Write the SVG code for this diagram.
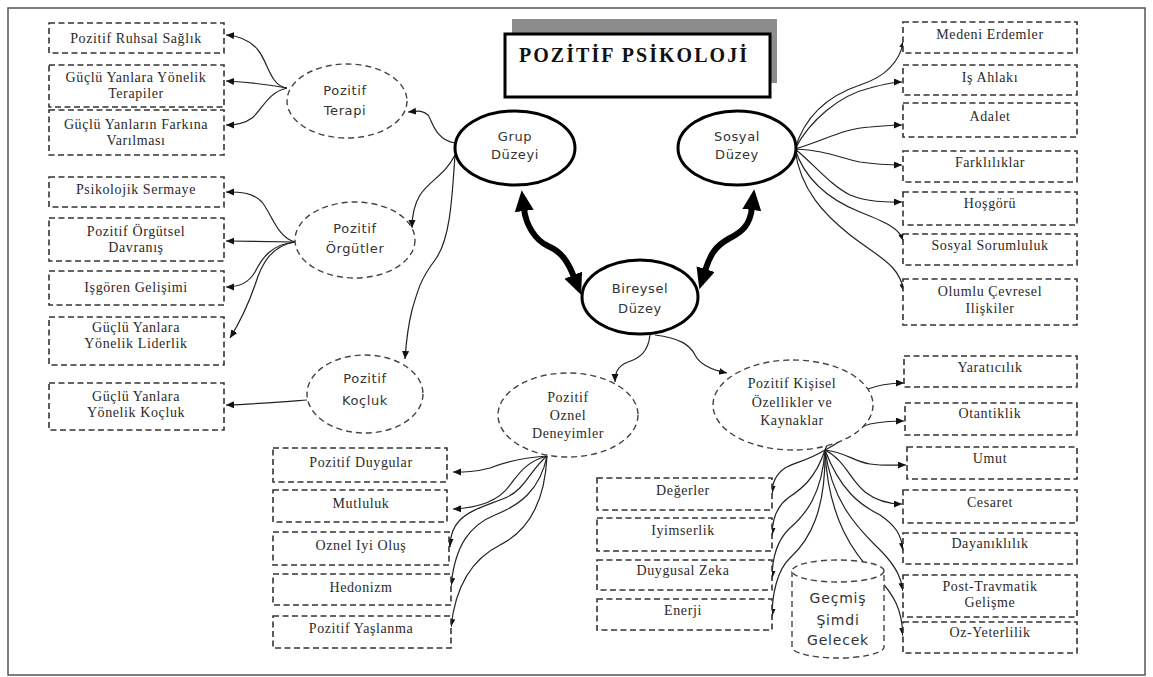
<svg xmlns="http://www.w3.org/2000/svg" width="1153" height="677" viewBox="0 0 1153 677">
<style>
.box{fill:#fff;stroke:#333;stroke-width:1.6;stroke-dasharray:6,3.5}
.del{fill:#fff;stroke:#444;stroke-width:1.4;stroke-dasharray:6,4}
.sel{fill:#fff;stroke:#000;stroke-width:3}
.t{font-family:"Liberation Serif","Times New Roman",serif;font-size:14px;letter-spacing:0.6px;fill:#2a2a2a;text-anchor:middle}
.s{font-family:"DejaVu Sans","Liberation Sans",sans-serif;font-size:13px;letter-spacing:0.6px;fill:#333;text-anchor:middle}
.c{fill:none;stroke:#222;stroke-width:1.2;marker-end:url(#ah)}
.big{fill:none;stroke:#000;stroke-width:6;marker-start:url(#bh);marker-end:url(#bh)}
</style>
<defs>
<marker id="ah" markerUnits="userSpaceOnUse" markerWidth="9" markerHeight="8" refX="8" refY="3.5" orient="auto"><path d="M0,0 L8,3.5 L0,7 z" fill="#111"/></marker>
<marker id="bh" markerUnits="userSpaceOnUse" markerWidth="22" markerHeight="20" refX="2" refY="9.5" orient="auto-start-reverse"><path d="M0,0 L21,9.5 L0,19 z" fill="#000"/></marker>
</defs>
<rect x="8" y="8" width="1137" height="667" fill="#fff" stroke="#555" stroke-width="1.5"/>

<g id="title">
<rect x="512" y="19" width="265" height="64" fill="#8c8c8c"/>
<rect x="505" y="34" width="265" height="63" fill="#fff" stroke="#000" stroke-width="3"/>
<text x="633" y="62" textLength="228" lengthAdjust="spacing" style="font-family:'Liberation Serif','Times New Roman',serif;font-size:20px;font-weight:bold;fill:#111;text-anchor:middle">POZİTİF PSİKOLOJİ</text>
</g>

<g id="connectors">
<path class="c" d="M287,88 C270,86 268,62 258,50 C250,40 240,36 226,35"/>
<path class="c" d="M287,88 C265,84 245,82 226,81"/>
<path class="c" d="M287,88 C268,92 262,110 252,118 C244,124 236,125 226,125"/>
<path class="c" d="M455,143 C435,140 432,120 428,115 C423,110 418,111 408,112"/>
<path class="c" d="M455,155 C445,175 430,180 420,195 C414,205 412,215 412,228"/>
<path class="c" d="M455,155 C452,200 450,240 435,260 C420,280 418,290 412,310 C407,330 406,345 405,359"/>
<path class="c" d="M295,242 C278,238 272,215 262,202 C252,192 240,192 226,192"/>
<path class="c" d="M295,242 L226,241"/>
<path class="c" d="M295,242 C272,244 262,258 255,272 C248,284 238,287 226,287"/>
<path class="c" d="M295,242 C272,246 262,262 255,285 C248,305 240,322 230,338"/>
<path class="c" d="M307,400 C280,402 255,404 226,405"/>
<path class="c" d="M795,149 C805,115 830,95 860,85 C885,77 900,62 904,40"/>
<path class="c" d="M795,149 C810,120 840,95 870,88 C885,84 893,82 902,82"/>
<path class="c" d="M795,149 C825,140 845,128 870,127 C885,126 893,125 902,125"/>
<path class="c" d="M795,149 C825,150 840,158 860,162 C880,165 893,165 902,165"/>
<path class="c" d="M795,149 C815,165 830,185 850,195 C870,203 890,202 902,202"/>
<path class="c" d="M795,149 C805,180 830,200 860,212 C885,222 900,228 904,242"/>
<path class="c" d="M795,149 C800,190 825,215 850,235 C880,258 900,265 904,292"/>
<path class="c" d="M650,335 C648,352 640,358 628,362 C618,366 615,372 615,382"/>
<path class="c" d="M655,335 C680,338 690,345 695,355 C700,365 712,370 727,373"/>
<path class="c" d="M547,456 C520,458 505,462 490,468 C475,472 465,472 453,472"/>
<path class="c" d="M547,456 C525,462 518,475 510,485 C498,502 478,508 453,509"/>
<path class="c" d="M547,456 C530,470 525,490 505,498 C485,506 470,510 460,520 C452,528 450,538 450,547"/>
<path class="c" d="M547,456 C540,490 520,505 495,515 C470,525 455,545 451,586"/>
<path class="c" d="M547,456 C545,500 530,530 500,545 C470,560 455,590 451,627"/>
<path class="c" d="M825,450 C835,425 845,400 865,390 C880,384 892,383 904,383"/>
<path class="c" d="M825,450 C845,440 855,428 870,424 C885,421 895,421 904,421"/>
<path class="c" d="M825,450 C845,452 855,462 870,464 C885,466 895,465 906,465"/>
<path class="c" d="M825,450 C845,460 850,480 865,492 C878,502 890,504 902,504"/>
<path class="c" d="M825,450 C840,490 860,505 880,515 C895,525 902,535 903,551"/>
<path class="c" d="M825,450 C832,500 855,525 875,545 C893,562 901,575 903,591"/>
<path class="c" d="M825,450 C828,520 855,555 875,575 C895,595 902,610 903,636"/>
<path class="c" d="M825,450 C805,462 795,462 785,468 C776,474 772,482 772,494"/>
<path class="c" d="M825,450 C815,480 800,490 788,498 C776,507 772,520 772,536"/>
<path class="c" d="M825,450 C822,495 805,515 790,528 C777,540 772,560 772,579"/>
<path class="c" d="M825,450 C826,510 810,540 790,558 C777,570 772,595 772,617"/>
<path class="big" d="M524,209 C526,225 535,240 548,246 C562,252 568,262 574,277"/>
<path class="big" d="M752,208 C750,225 742,232 730,238 C715,246 710,255 705,271"/>
</g>

<g id="grup"><ellipse class="sel" cx="515" cy="148" rx="60" ry="37"/><text class="s" x="515" y="141">Grup</text><text class="s" x="515" y="159">Düzeyi</text></g>
<g id="sosyal"><ellipse class="sel" cx="737" cy="148" rx="59" ry="37"/><text class="s" x="737" y="141">Sosyal</text><text class="s" x="737" y="159">Düzey</text></g>
<g id="bireysel"><ellipse class="sel" cx="640" cy="297" rx="58" ry="37"/><text class="s" x="640" y="293">Bireysel</text><text class="s" x="640" y="313">Düzey</text></g>

<g id="terapi"><ellipse class="del" cx="347" cy="101" rx="60" ry="37"/><text class="s" x="345" y="95">Pozitif</text><text class="s" x="345" y="115">Terapi</text></g>
<g id="orgutler"><ellipse class="del" cx="355" cy="240" rx="60" ry="38"/><text class="s" x="355" y="233">Pozitif</text><text class="s" x="355" y="253">Örgütler</text></g>
<g id="kocluk"><ellipse class="del" cx="365" cy="394" rx="58" ry="39"/><text class="s" x="365" y="383">Pozitif</text><text class="s" x="365" y="405">Koçluk</text></g>
<g id="oznel"><ellipse class="del" cx="568" cy="415" rx="70" ry="42"/><text class="t" x="568" y="402">Pozitif</text><text class="t" x="568" y="420">Oznel</text><text class="t" x="568" y="438">Deneyimler</text></g>
<g id="kisisel"><ellipse class="del" cx="793" cy="405" rx="80" ry="45"/><text class="t" x="792" y="388">Pozitif Kişisel</text><text class="t" x="792" y="407">Özellikler ve</text><text class="t" x="792" y="425">Kaynaklar</text></g>

<g id="zaman">
<path class="del" d="M792,571 L792,647 A46,11 0 0 0 884,647 L884,571"/>
<ellipse class="del" cx="838" cy="571" rx="46" ry="11"/>
<text class="s" style="font-size:14px;letter-spacing:0.8px" x="838" y="603">Geçmiş</text>
<text class="s" style="font-size:14px;letter-spacing:0.8px" x="838" y="625">Şimdi</text>
<text class="s" style="font-size:14px;letter-spacing:0.8px" x="838" y="645">Gelecek</text>
</g>

<g id="ruhsal"><rect class="box" x="49" y="23" width="175" height="30"/><text class="t" x="136" y="43">Pozitif Ruhsal Sağlık</text></g>
<g id="terapiler"><rect class="box" x="49" y="65" width="175" height="42"/><text class="t" x="136" y="82">Güçlü Yanlara Yönelik</text><text class="t" x="136" y="98">Terapiler</text></g>
<g id="farkina"><rect class="box" x="49" y="110" width="175" height="45"/><text class="t" x="136" y="129">Güçlü Yanların Farkına</text><text class="t" x="136" y="145">Varılması</text></g>
<g id="sermaye"><rect class="box" x="49" y="177" width="175" height="30"/><text class="t" x="136" y="194">Psikolojik Sermaye</text></g>
<g id="davranis"><rect class="box" x="49" y="218" width="175" height="43"/><text class="t" x="136" y="236">Pozitif Örgütsel</text><text class="t" x="136" y="252">Davranış</text></g>
<g id="isgoren"><rect class="box" x="49" y="271" width="175" height="34"/><text class="t" x="136" y="292">Işgören Gelişimi</text></g>
<g id="liderlik"><rect class="box" x="49" y="317" width="175" height="48"/><text class="t" x="136" y="332">Güçlü Yanlara</text><text class="t" x="136" y="348">Yönelik Liderlik</text></g>
<g id="kocluk-kutu"><rect class="box" x="49" y="383" width="175" height="47"/><text class="t" x="136" y="401">Güçlü Yanlara</text><text class="t" x="136" y="417">Yönelik Koçluk</text></g>

<g id="medeni"><rect class="box" x="903" y="22" width="174" height="31"/><text class="t" x="990" y="39">Medeni Erdemler</text></g>
<g id="ahlak"><rect class="box" x="903" y="65" width="174" height="30"/><text class="t" x="990" y="82">Iş Ahlakı</text></g>
<g id="adalet"><rect class="box" x="903" y="103" width="174" height="34"/><text class="t" x="990" y="121">Adalet</text></g>
<g id="farkliliklar"><rect class="box" x="903" y="151" width="174" height="31"/><text class="t" x="990" y="167">Farklılıklar</text></g>
<g id="hosgoru"><rect class="box" x="903" y="192" width="174" height="33"/><text class="t" x="990" y="208">Hoşgörü</text></g>
<g id="sorumluluk"><rect class="box" x="903" y="234" width="174" height="31"/><text class="t" x="990" y="250">Sosyal Sorumluluk</text></g>
<g id="cevresel"><rect class="box" x="903" y="279" width="174" height="46"/><text class="t" x="990" y="296">Olumlu Çevresel</text><text class="t" x="990" y="313">Ilişkiler</text></g>

<g id="yaraticilik"><rect class="box" x="904" y="356" width="173" height="31"/><text class="t" x="990" y="372">Yaratıcılık</text></g>
<g id="otantiklik"><rect class="box" x="905" y="403" width="172" height="32"/><text class="t" x="990" y="418">Otantiklik</text></g>
<g id="umut"><rect class="box" x="907" y="447" width="170" height="32"/><text class="t" x="990" y="463">Umut</text></g>
<g id="cesaret"><rect class="box" x="903" y="490" width="174" height="33"/><text class="t" x="990" y="507">Cesaret</text></g>
<g id="dayaniklilik"><rect class="box" x="903" y="533" width="174" height="31"/><text class="t" x="990" y="548">Dayanıklılık</text></g>
<g id="travmatik"><rect class="box" x="903" y="575" width="174" height="42"/><text class="t" x="990" y="591">Post-Travmatik</text><text class="t" x="990" y="607">Gelişme</text></g>
<g id="yeterlilik"><rect class="box" x="903" y="622" width="174" height="31"/><text class="t" x="990" y="637">Oz-Yeterlilik</text></g>

<g id="degerler"><rect class="box" x="597" y="478" width="175" height="32"/><text class="t" x="683" y="495">Değerler</text></g>
<g id="iyimserlik"><rect class="box" x="597" y="518" width="175" height="33"/><text class="t" x="683" y="535">Iyimserlik</text></g>
<g id="zeka"><rect class="box" x="597" y="560" width="175" height="30"/><text class="t" x="683" y="575">Duygusal Zeka</text></g>
<g id="enerji"><rect class="box" x="597" y="599" width="175" height="31"/><text class="t" x="683" y="615">Enerji</text></g>

<g id="duygular"><rect class="box" x="273" y="448" width="174" height="34"/><text class="t" x="361" y="467">Pozitif Duygular</text></g>
<g id="mutluluk"><rect class="box" x="273" y="490" width="174" height="32"/><text class="t" x="361" y="508">Mutluluk</text></g>
<g id="iyiolus"><rect class="box" x="273" y="532" width="176" height="33"/><text class="t" x="361" y="550">Oznel Iyi Oluş</text></g>
<g id="hedonizm"><rect class="box" x="273" y="574" width="178" height="31"/><text class="t" x="361" y="592">Hedonizm</text></g>
<g id="yaslanma"><rect class="box" x="273" y="616" width="178" height="32"/><text class="t" x="361" y="633">Pozitif Yaşlanma</text></g>
</svg>
